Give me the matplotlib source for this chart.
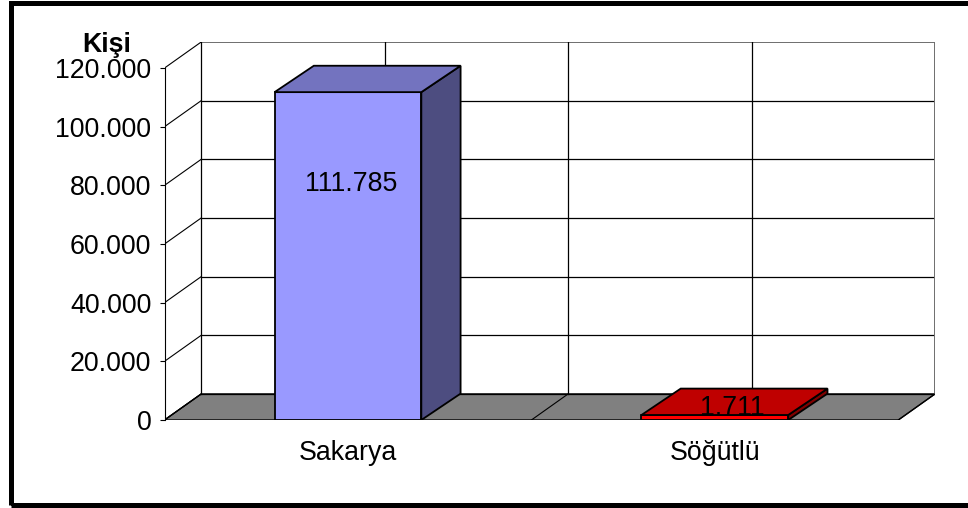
import matplotlib.pyplot as plt
from matplotlib.patches import Polygon, Rectangle

# population by place
categories = ['Sakarya', 'Söğütlü']
values = [111785, 1711]
front_colors = ['#9999FF', '#FF0000']
top_colors = ['#7373BF', '#BF0000']
side_colors = ['#4D4D80', '#800000']
y_ticks = [0, 20000, 40000, 60000, 80000, 100000, 120000]
y_label = 'Kişi'

plt.rcParams['font.family'] = ['Liberation Sans', 'DejaVu Sans']
FS = 19.3


def fmt(v):
    return f'{v:,}'.replace(',', '.')


ymax = y_ticks[-1]
depth_x = 0.1            # wall depth in category units
depth_y = ymax * 0.074   # wall depth in value units
bar_dx = 0.107
bar_dy = ymax * 0.075
bar_w = 0.4

fig = plt.figure(figsize=(9.68, 5.08), dpi=100)
W, H = 968, 508
ax = fig.add_axes([164.5 / W, (H - 420) / H, (935 - 164.5) / W, (420 - 42) / H])
ax.set_xlim(-0.5, 1.5 + depth_x)
ax.set_ylim(0, ymax + depth_y)
ax.patch.set_alpha(0)

x0, x1 = -0.5, len(categories) - 0.5

# floor
floor = Polygon([(x0, 0), (x1, 0), (x1 + depth_x, depth_y), (x0 + depth_x, depth_y)],
                closed=True, facecolor='#808080', edgecolor='black', lw=1, zorder=1)
ax.add_patch(floor)
for k in range(5):
    xf = x0 + k * 0.5
    ax.plot([xf, xf + depth_x], [0, depth_y], color='black', lw=0.8, zorder=1.5)

# back wall and left wall gridlines
for t in y_ticks:
    gc = '#6e6e6e' if t == ymax else 'black'
    ax.plot([x0 + depth_x, x1 + depth_x], [t + depth_y, t + depth_y], color=gc,
            lw=1.4 if t == ymax else 0.9, zorder=1.2)
    ax.plot([x0, x0 + depth_x], [t, t + depth_y], color='black', lw=0.8, zorder=1.2)
for k in range(5):
    xv = x0 + depth_x + k * 0.5
    gc = '#6e6e6e' if k == 4 else 'black'
    ax.plot([xv, xv], [depth_y, ymax + depth_y], color=gc,
            lw=1.4 if k == 4 else 0.9, zorder=1.2)

# bars: front face, top and right side
xs = list(range(len(categories)))
ax.bar(xs, values, width=bar_w, color=front_colors, edgecolor='black', lw=1.3, zorder=3)
for x, v, tc, sc in zip(xs, values, top_colors, side_colors):
    l, r = x - bar_w / 2, x + bar_w / 2
    top = Polygon([(l, v), (r, v), (r + bar_dx, v + bar_dy), (l + bar_dx, v + bar_dy)],
                  closed=True, facecolor=tc, edgecolor='black', lw=1.3, zorder=3)
    side = Polygon([(r, 0), (r + bar_dx, bar_dy), (r + bar_dx, v + bar_dy), (r, v)],
                   closed=True, facecolor=sc, edgecolor='black', lw=1.3, zorder=3)
    ax.add_patch(side)
    ax.add_patch(top)
    if v > ymax * 0.2:
        ax.text(x + 0.008, v * 0.72, fmt(v), ha='center', va='center', fontsize=FS, zorder=4)
    else:
        ax.text(x + bar_dx * 0.45, v + bar_dy * 0.27, fmt(v), ha='center', va='center',
                fontsize=FS, zorder=4)

# category labels
for x, c in zip(xs, categories):
    ax.annotate(c, xy=(x, 0), xytext=(0, -28.8), textcoords='offset points',
                ha='center', va='baseline', fontsize=FS)

# value axis
for s in ['top', 'right', 'bottom']:
    ax.spines[s].set_visible(False)
ax.spines['left'].set_bounds(0, ymax)
ax.spines['left'].set_linewidth(0.8)
ax.set_xticks([])
ax.set_yticks(y_ticks)
ax.set_yticklabels([fmt(t) for t in y_ticks], fontsize=FS)
ax.tick_params(axis='y', direction='out', length=3.6, width=0.8, pad=5.8)

ax.annotate(y_label, xy=(x0, ymax), xytext=(-41.7, 11.5), textcoords='offset points',
            ha='center', va='baseline', fontsize=FS, fontweight='bold')

# chart border
fig.patches.append(Rectangle((10.5 / W, 3.5 / H), 1.2, (505.5 - 3.5) / H,
                             transform=fig.transFigure, fill=False,
                             edgecolor='black', lw=3.6))

fig.savefig('out.png', dpi=100)
